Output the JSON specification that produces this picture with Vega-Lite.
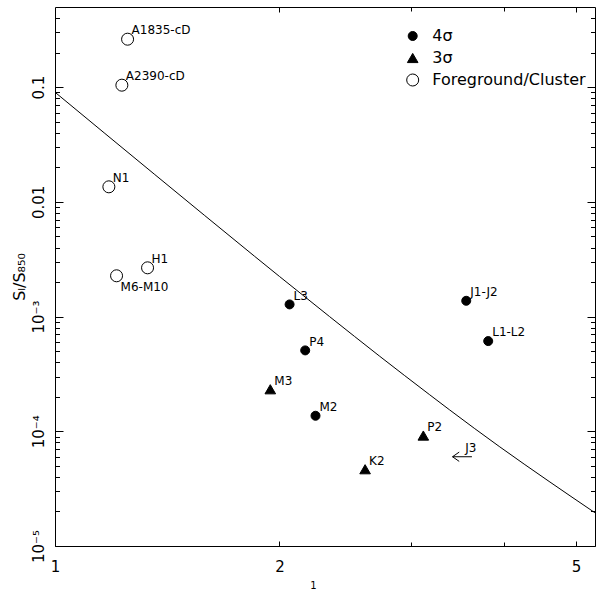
{
  "$schema": "https://vega.github.io/schema/vega-lite/v6.json",
  "width": 540,
  "height": 539,
  "autosize": {"type": "none"},
  "padding": {"left": 55, "top": 7, "right": 2, "bottom": 44},
  "background": "white",
  "config": {
    "view": {"stroke": "black", "strokeWidth": 1},
    "font": "DejaVu Sans",
    "axis": {
      "domain": false,
      "grid": false,
      "tickColor": "black",
      "tickWidth": 1,
      "labelColor": "black",
      "titleColor": "black",
      "labelFont": "DejaVu Sans",
      "labelFontSize": 15,
      "labelOverlap": false,
      "labelFlush": false,
      "titleFont": "DejaVu Sans",
      "titleFontWeight": "normal"
    }
  },
  "datasets": {
    "pts": [
      {"name": "A1835-cD", "x": 1.2513, "y": 0.262, "type": "Foreground/Cluster"},
      {"name": "A2390-cD", "x": 1.2294, "y": 0.1041, "type": "Foreground/Cluster"},
      {"name": "N1", "x": 1.181, "y": 0.01353, "type": "Foreground/Cluster"},
      {"name": "H1", "x": 1.3309, "y": 0.002662, "type": "Foreground/Cluster"},
      {"name": "M6-M10", "x": 1.2094, "y": 0.002268, "type": "Foreground/Cluster"},
      {"name": "L3", "x": 2.0637, "y": 0.001277, "type": "4σ"},
      {"name": "P4", "x": 2.1656, "y": 0.0005073, "type": "4σ"},
      {"name": "M3", "x": 1.9443, "y": 0.0002325, "type": "3σ"},
      {"name": "M2", "x": 2.2357, "y": 0.0001366, "type": "4σ"},
      {"name": "K2", "x": 2.6057, "y": 0.0000467, "type": "3σ"},
      {"name": "P2", "x": 3.119, "y": 0.0000918, "type": "3σ"},
      {"name": "J1-J2", "x": 3.561, "y": 0.001373, "type": "4σ"},
      {"name": "L1-L2", "x": 3.811, "y": 0.0006115, "type": "4σ"}
    ],
    "lim": [
      {"name": "J3", "x": 3.624, "y": 0.00006}
    ],
    "curve": [
      {"x": 1, "y": 0.0904},
      {"x": 1.1666, "y": 0.0395},
      {"x": 1.361, "y": 0.01731},
      {"x": 1.5878, "y": 0.007603},
      {"x": 1.8524, "y": 0.003353},
      {"x": 2.0006, "y": 0.002236},
      {"x": 2.334, "y": 0.001002},
      {"x": 2.7228, "y": 0.0004536},
      {"x": 3.1769, "y": 0.0002095},
      {"x": 3.3794, "y": 0.0001544},
      {"x": 3.9425, "y": 0.00007379},
      {"x": 4.5992, "y": 0.00003656},
      {"x": 5.2991, "y": 0.0000195}
    ]
  },
  "layer": [
    {
      "data": {"name": "curve"},
      "mark": {"type": "line", "color": "black", "strokeWidth": 1, "interpolate": "monotone", "clip": true},
      "encoding": {
        "x": {
          "field": "x", "type": "quantitative",
          "scale": {"type": "log", "domain": [1, 5.3], "nice": false},
          "axis": {
            "orient": "bottom",
            "values": [1, 2, 3, 4, 5],
            "tickSize": {"condition": {"test": "datum.value==3||datum.value==4", "value": -4}, "value": -5},
            "labelPadding": 18,
            "labelExpr": "datum.value==3||datum.value==4 ? '' : datum.label",
            "title": "1",
            "titleX": 258,
            "titleY": 34,
            "titleBaseline": "top",
            "titleAlign": "center",
            "titleFontSize": 10
          }
        },
        "y": {
          "field": "y", "type": "quantitative",
          "scale": {"type": "log", "domain": [0.00001, 0.5], "nice": false},
          "axis": {
            "orient": "left",
            "values": [0.00001, 0.00002, 0.00003, 0.00004, 0.00005, 0.00006, 0.00007, 0.00008, 0.00009, 0.0001, 0.0002, 0.0003, 0.0004, 0.0005, 0.0006, 0.0007, 0.0008, 0.0009, 0.001, 0.002, 0.003, 0.004, 0.005, 0.006, 0.007, 0.008, 0.009, 0.01, 0.02, 0.03, 0.04, 0.05, 0.06, 0.07, 0.08, 0.09, 0.1, 0.2, 0.3, 0.4],
            "tickSize": {"condition": {"test": "indexof([0.1,0.01,0.001,0.0001,0.00001], datum.value) >= 0", "value": -8}, "value": -4.5},
            "labelPadding": 17,
            "labelAngle": -90,
            "labelAlign": "center",
            "labelBaseline": "bottom",
            "labelExpr": "datum.value==0.1?'0.1':datum.value==0.01?'0.01':datum.value==0.001?'10⁻³':datum.value==0.0001?'10⁻⁴':datum.value==0.00001?'10⁻⁵':''",
            "title": "Sₗ/S₈₅₀",
            "titleFontSize": 16,
            "titleX": -31,
            "titleBaseline": "alphabetic",
            "titleAngle": -90
          }
        }
      }
    },
    {
      "data": {"name": "curve"},
      "mark": {"type": "line", "strokeOpacity": 0},
      "encoding": {
        "x": {
          "field": "x", "type": "quantitative",
          "axis": {
            "orient": "top",
            "values": [2, 3, 4, 5],
            "tickSize": {"condition": {"test": "datum.value==3||datum.value==4", "value": -4}, "value": -5},
            "labels": false,
            "title": null
          }
        },
        "y": {
          "field": "y", "type": "quantitative",
          "axis": {
            "orient": "right",
            "values": [0.00001, 0.00002, 0.00003, 0.00004, 0.00005, 0.00006, 0.00007, 0.00008, 0.00009, 0.0001, 0.0002, 0.0003, 0.0004, 0.0005, 0.0006, 0.0007, 0.0008, 0.0009, 0.001, 0.002, 0.003, 0.004, 0.005, 0.006, 0.007, 0.008, 0.009, 0.01, 0.02, 0.03, 0.04, 0.05, 0.06, 0.07, 0.08, 0.09, 0.1, 0.2, 0.3, 0.4],
            "tickSize": {"condition": {"test": "indexof([0.1,0.01,0.001,0.0001,0.00001], datum.value) >= 0", "value": -8}, "value": -4.5},
            "labels": false,
            "title": null
          }
        }
      }
    },
    {
      "data": {"name": "pts"},
      "mark": {"type": "point", "filled": true, "stroke": "black", "strokeWidth": 1, "opacity": 1},
      "encoding": {
        "x": {"field": "x", "type": "quantitative", "axis": null},
        "y": {"field": "y", "type": "quantitative", "axis": null},
        "shape": {
          "field": "type", "type": "nominal",
          "scale": {"domain": ["4σ", "3σ", "Foreground/Cluster"], "range": ["circle", "triangle-up", "circle"]},
          "legend": {
            "title": null,
            "orient": "none",
            "legendX": 349.7,
            "legendY": 21,
            "padding": 0,
            "labelFont": "DejaVu Sans",
            "labelFontSize": 16,
            "labelColor": "black",
            "labelOffset": 11.6,
            "rowPadding": 6,
            "symbolStrokeColor": "black",
            "symbolStrokeWidth": 1,
            "symbolOpacity": 1
          }
        },
        "fill": {
          "field": "type", "type": "nominal",
          "scale": {"domain": ["4σ", "3σ", "Foreground/Cluster"], "range": ["black", "black", "white"]}
        },
        "size": {
          "field": "type", "type": "nominal",
          "scale": {"domain": ["4σ", "3σ", "Foreground/Cluster"], "range": [81, 144, 52]}
        }
      }
    },
    {
      "data": {"name": "pts"},
      "transform": [{"filter": "datum.name != 'M6-M10'"}],
      "mark": {"type": "text", "align": "left", "baseline": "alphabetic", "dx": 4, "dy": -4.7, "font": "DejaVu Sans", "fontSize": 12, "color": "black"},
      "encoding": {
        "x": {"field": "x", "type": "quantitative", "axis": null},
        "y": {"field": "y", "type": "quantitative", "axis": null},
        "text": {"field": "name"}
      }
    },
    {
      "data": {"name": "pts"},
      "transform": [{"filter": "datum.name == 'M6-M10'"}],
      "mark": {"type": "text", "align": "left", "baseline": "alphabetic", "dx": 4, "dy": 15.3, "font": "DejaVu Sans", "fontSize": 12, "color": "black"},
      "encoding": {
        "x": {"field": "x", "type": "quantitative", "axis": null},
        "y": {"field": "y", "type": "quantitative", "axis": null},
        "text": {"field": "name"}
      }
    },
    {
      "data": {"name": "lim"},
      "mark": {"type": "point", "shape": "M0,0L-2,0M-1.31,-0.48L-2,0L-1.31,0.48", "size": 376, "filled": false, "stroke": "black", "strokeWidth": 1, "opacity": 1},
      "encoding": {
        "x": {"field": "x", "type": "quantitative", "axis": null},
        "y": {"field": "y", "type": "quantitative", "axis": null}
      }
    },
    {
      "data": {"name": "lim"},
      "mark": {"type": "text", "align": "left", "baseline": "alphabetic", "dx": -6.7, "dy": -5, "font": "DejaVu Sans", "fontSize": 12, "color": "black"},
      "encoding": {
        "x": {"field": "x", "type": "quantitative", "axis": null},
        "y": {"field": "y", "type": "quantitative", "axis": null},
        "text": {"field": "name"}
      }
    }
  ],
  "resolve": {"axis": {"x": "independent", "y": "independent"}}
}
